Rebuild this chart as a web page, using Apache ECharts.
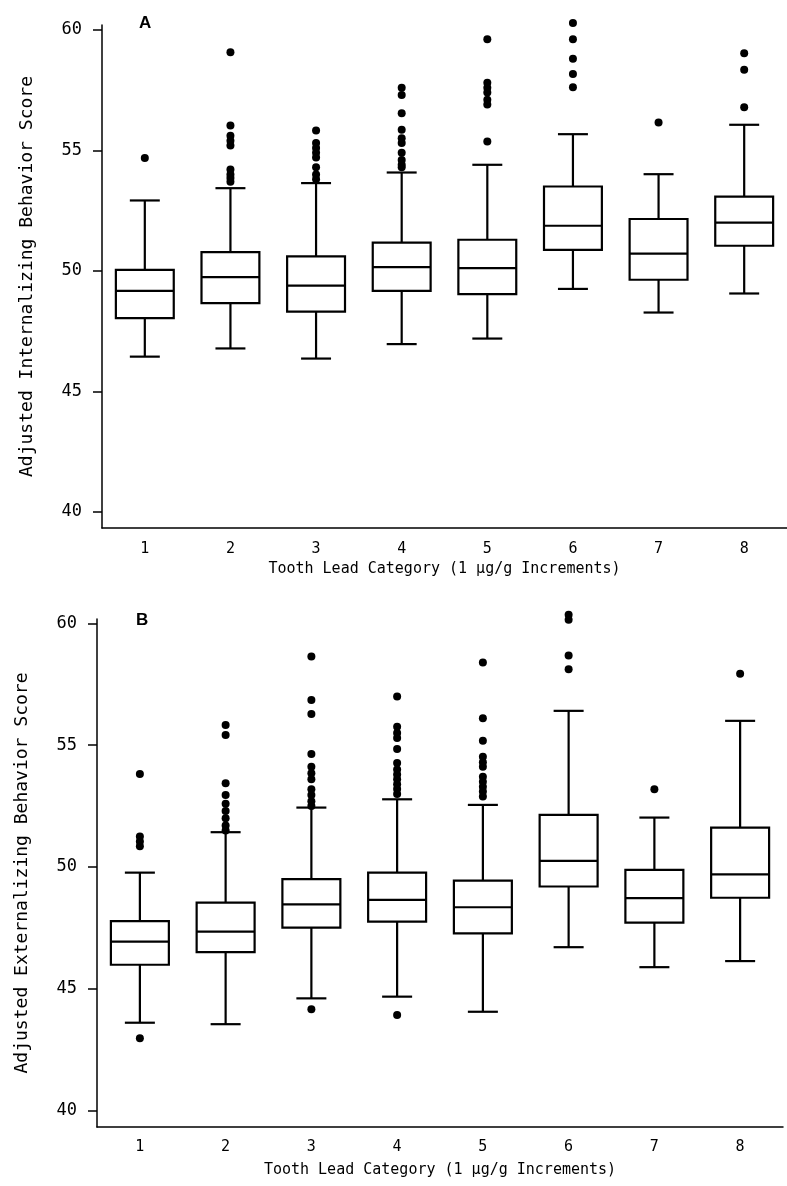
<!DOCTYPE html>
<html><head><meta charset="utf-8">
<script src="https://cdn.jsdelivr.net/npm/echarts@6/dist/echarts.min.js"></script>
<style>html,body{margin:0;padding:0;background:#fff;overflow:hidden}#c{width:787px;height:1186px}</style>
</head><body><div id="c"></div>
<script>
const categories = ['1','2','3','4','5','6','7','8'];
const yTicks = [40, 45, 50, 55, 60];
const xTitle = 'Tooth Lead Category (1 \u00b5g/g Increments)';
const yTitleA = 'Adjusted Internalizing Behavior Score';
const yTitleB = 'Adjusted Externalizing Behavior Score';

// Panel A (internalizing)
const lowA  = [46.44, 46.78, 46.36, 46.96, 47.19, 49.25, 48.27, 49.06];
const q1A   = [48.04, 48.66, 48.31, 49.17, 49.03, 50.87, 49.63, 51.04];
const medA  = [49.17, 49.74, 49.39, 50.15, 50.11, 51.87, 50.71, 52.00];
const q3A   = [50.04, 50.78, 50.60, 51.17, 51.29, 53.50, 52.15, 53.08];
const highA = [52.92, 53.43, 53.64, 54.08, 54.40, 55.67, 54.01, 56.06];
const outA = [
  [54.68],
  [59.07, 56.03, 55.6, 55.4, 55.2, 54.2, 54.0, 53.85, 53.7],
  [55.82, 55.3, 55.1, 54.9, 54.7, 54.3, 54.0, 53.8],
  [57.6, 57.3, 56.54, 55.85, 55.5, 55.3, 54.9, 54.6, 54.4, 54.3],
  [59.61, 57.8, 57.6, 57.4, 57.1, 56.9, 55.37],
  [60.28, 59.61, 58.8, 58.17, 57.62],
  [56.15],
  [59.03, 58.34, 56.79]
];

// Panel B (externalizing)
const lowB  = [43.61, 43.55, 44.61, 44.68, 44.06, 46.71, 45.89, 46.14];
const q1B   = [45.99, 46.51, 47.51, 47.76, 47.28, 49.20, 47.72, 48.74];
const medB  = [46.94, 47.35, 48.47, 48.65, 48.35, 50.25, 48.72, 49.70];
const q3B   = [47.78, 48.54, 49.50, 49.77, 49.44, 52.14, 49.88, 51.62];
const highB = [49.77, 51.43, 52.44, 52.78, 52.55, 56.41, 52.03, 56.00];
const outB = [
  [53.82, 51.25, 51.05, 50.85, 42.97],
  [55.83, 55.42, 53.44, 52.96, 52.6, 52.3, 52.0, 51.7, 51.5],
  [58.64, 56.86, 56.28, 54.64, 54.12, 53.85, 53.6, 53.19, 52.96, 52.7, 52.5, 44.16],
  [57.0, 55.76, 55.5, 55.3, 54.84, 54.27, 54.0, 53.8, 53.6, 53.4, 53.2, 53.0, 43.93],
  [58.39, 56.11, 55.18, 54.53, 54.3, 54.12, 53.71, 53.5, 53.3, 53.1, 52.89],
  [60.35, 60.15, 58.68, 58.12],
  [53.19],
  [57.93]
];

const FONT = 'DejaVu Sans Mono';
const BOX_HALF = 0.338, CAP_HALF = 0.175;

function boxData(lo, q1, md, q3, hi) {
  return categories.map((c, i) => [i, lo[i], q1[i], md[i], q3[i], hi[i]]);
}
function outData(out) {
  const r = [];
  out.forEach((arr, i) => arr.forEach(v => r.push([i, v])));
  return r;
}
function renderBox(params, api) {
  const i = api.value(0);
  const x = api.coord([i, api.value(3)])[0];
  const yLo = api.coord([i, api.value(1)])[1];
  const yQ1 = api.coord([i, api.value(2)])[1];
  const yMd = api.coord([i, api.value(3)])[1];
  const yQ3 = api.coord([i, api.value(4)])[1];
  const yHi = api.coord([i, api.value(5)])[1];
  const band = api.size([1, 0])[0];
  const hw = band * BOX_HALF, hc = band * CAP_HALF;
  const st = { stroke: '#000', lineWidth: 2.2, fill: null };
  return {
    type: 'group',
    children: [
      { type: 'rect', shape: { x: x - hw, y: yQ3, width: 2 * hw, height: yQ1 - yQ3 }, style: { stroke: '#000', fill: '#fff', lineWidth: 2.2 } },
      { type: 'line', shape: { x1: x - hw, y1: yMd, x2: x + hw, y2: yMd }, style: st },
      { type: 'line', shape: { x1: x, y1: yQ3, x2: x, y2: yHi }, style: st },
      { type: 'line', shape: { x1: x, y1: yQ1, x2: x, y2: yLo }, style: st },
      { type: 'line', shape: { x1: x - hc, y1: yHi, x2: x + hc, y2: yHi }, style: st },
      { type: 'line', shape: { x1: x - hc, y1: yLo, x2: x + hc, y2: yLo }, style: st }
    ]
  };
}

function xAxisCfg(gi, gap, margin) {
  return {
    type: 'category', gridIndex: gi, data: categories, boundaryGap: true,
    axisLine: { lineStyle: { color: '#000', width: 1.5 } },
    axisTick: { show: false },
    axisLabel: { color: '#000', fontFamily: FONT, fontSize: 15, margin: margin },
    splitLine: { show: false },
    name: xTitle, nameLocation: 'middle', nameGap: gap,
    nameTextStyle: { color: '#000', fontFamily: FONT, fontSize: 15 }
  };
}
function yAxisCfg(gi, title, min, max) {
  return {
    type: 'value', gridIndex: gi, min: min, max: max,
    axisLine: { show: true, lineStyle: { color: '#000', width: 1.5 } },
    axisTick: { show: true, length: 9, customValues: yTicks, lineStyle: { color: '#000', width: 1.5 } },
    axisLabel: { color: '#000', fontFamily: FONT, fontSize: 17, margin: 20, customValues: yTicks },
    splitLine: { show: false },
    name: title, nameLocation: 'middle', nameGap: 66, nameRotate: 90,
    nameTextStyle: { color: '#000', fontFamily: FONT, fontSize: 18 }
  };
}

const chart = echarts.init(document.getElementById('c'), null, { renderer: 'canvas' });
chart.setOption({
  backgroundColor: '#fff',
  animation: false,
  title: [
    { text: 'A', left: 134, top: 10, textStyle: { fontFamily: 'Liberation Sans', fontWeight: 'bold', fontSize: 17, color: '#000' } },
    { text: 'B', left: 131, top: 607, textStyle: { fontFamily: 'Liberation Sans', fontWeight: 'bold', fontSize: 17, color: '#000' } }
  ],
  grid: [
    { left: 102, top: 25, width: 685, height: 503 },
    { left: 97, top: 619, width: 686, height: 508 }
  ],
  xAxis: [ xAxisCfg(0, 34, 14), xAxisCfg(1, 36, 13) ],
  yAxis: [ yAxisCfg(0, yTitleA, 39.33, 60.2), yAxisCfg(1, yTitleB, 39.33, 60.18) ],
  series: [
    { type: 'custom', xAxisIndex: 0, yAxisIndex: 0, renderItem: renderBox, encode: { x: 0, y: [1,2,3,4,5] }, data: boxData(lowA, q1A, medA, q3A, highA), clip: false },
    { type: 'scatter', xAxisIndex: 0, yAxisIndex: 0, symbolSize: 8, itemStyle: { color: '#000', opacity: 1 }, data: outData(outA), clip: false },
    { type: 'custom', xAxisIndex: 1, yAxisIndex: 1, renderItem: renderBox, encode: { x: 0, y: [1,2,3,4,5] }, data: boxData(lowB, q1B, medB, q3B, highB), clip: false },
    { type: 'scatter', xAxisIndex: 1, yAxisIndex: 1, symbolSize: 8, itemStyle: { color: '#000', opacity: 1 }, data: outData(outB), clip: false }
  ]
});
</script>
</body></html>
